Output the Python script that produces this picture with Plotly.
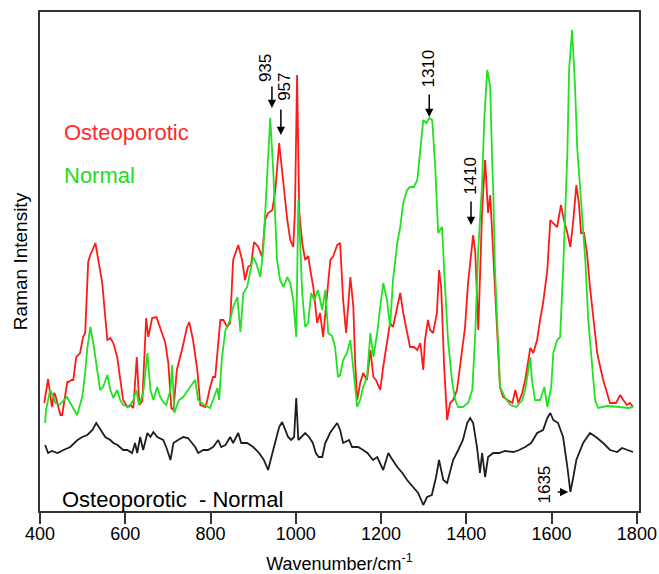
import plotly.graph_objects as go

# ---- data (wavenumber in cm-1, intensity in arbitrary units) ----
osteo_x = [410, 417, 419, 428, 433, 436, 448, 452, 459, 464, 466, 474, 478, 485, 490, 494, 501, 506, 513, 518, 530,
           537, 546, 553, 558, 565, 572, 581, 588, 595, 605, 612, 619, 627, 633, 640, 649, 654, 663, 673, 682, 694,
           701, 708, 713, 721, 734, 745, 750, 759, 769, 776, 788, 792, 799, 806, 811, 823, 830, 839, 846, 853, 865,
           874, 881, 888, 895, 902, 912, 921, 928, 935, 945, 952, 961, 970, 980, 987, 994, 998, 1003, 1008, 1015,
           1022, 1029, 1034, 1041, 1050, 1057, 1064, 1074, 1081, 1088, 1097, 1104, 1111, 1118, 1123, 1128, 1135,
           1139, 1144, 1151, 1158, 1167, 1175, 1182, 1188, 1198, 1205, 1214, 1221, 1228, 1238, 1245, 1252, 1261,
           1268, 1277, 1285, 1292, 1299, 1303, 1310, 1315, 1322, 1331, 1336, 1341, 1348, 1355, 1362, 1369, 1378,
           1385, 1397, 1404, 1416, 1421, 1428, 1437, 1444, 1451, 1456, 1463, 1472, 1479, 1486, 1496, 1508, 1515,
           1522, 1531, 1538, 1543, 1550, 1557, 1566, 1573, 1580, 1590, 1597, 1603, 1613, 1622, 1629, 1637, 1644,
           1651, 1658, 1664, 1669, 1676, 1683, 1690, 1698, 1707, 1714, 1721, 1730, 1737, 1751, 1761, 1768, 1777,
           1784, 1791]
osteo_y = [108, 131, 132, 104, 118, 116, 96, 96, 114, 129, 129, 131, 131, 154, 156, 158, 174, 178, 249, 256, 268,
           251, 228, 194, 171, 173, 168, 154, 134, 111, 104, 106, 103, 154, 106, 110, 193, 174, 193, 194, 183, 168,
           148, 103, 101, 141, 163, 184, 189, 171, 141, 106, 104, 110, 124, 134, 134, 191, 191, 184, 188, 251, 266,
           251, 231, 244, 246, 269, 264, 254, 291, 298, 301, 321, 368, 331, 291, 271, 264, 300, 436, 300, 268,
           251, 255, 241, 224, 188, 198, 174, 218, 251, 255, 266, 268, 211, 178, 205, 234, 204,
           151, 111, 128, 138, 131, 161, 134, 131, 121, 144, 171, 188, 184, 204, 218, 198, 178,
           164, 164, 161, 168, 141, 171, 191, 181, 178, 198, 241, 224, 144, 91, 108, 111, 121,
           144, 184, 228, 276, 258, 181, 300, 351, 298, 316, 258, 174, 124, 114, 111, 108, 121,
           108, 118, 131, 144, 163, 158, 171, 191, 208, 241, 291, 288, 284, 306, 291, 278, 264,
           291, 326, 308, 278, 278, 258, 224, 191, 158, 144, 131, 118, 108, 108, 116, 111, 106,
           108, 104]

normal_x = [412, 414, 424, 431, 436, 445, 463, 471, 487, 499, 506, 511, 518, 525, 534, 541, 548, 558, 565, 572,
            581, 588, 595, 609, 619, 626, 632, 642, 652, 659, 666, 675, 682, 689, 696, 706, 710, 715, 726, 736,
            752, 764, 771, 785, 799, 806, 816, 820, 827, 835, 846, 853, 863, 870, 877, 886, 893, 900, 907, 917,
            924, 933, 940, 947, 952, 956, 963, 971, 980, 987, 994, 1001, 1006, 1015, 1022, 1029, 1036, 1043,
            1052, 1062, 1069, 1076, 1085, 1092, 1099, 1104, 1111, 1120, 1128, 1135, 1144, 1151, 1158, 1167,
            1175, 1182, 1191, 1198, 1205, 1214, 1221, 1228, 1238, 1245, 1252, 1261, 1268, 1277, 1285, 1292,
            1299, 1306, 1313, 1320, 1327, 1334, 1343, 1350, 1357, 1367, 1374, 1381, 1392, 1404, 1414, 1421,
            1428, 1437, 1442, 1449, 1456, 1461, 1463, 1467, 1472, 1479, 1490, 1503, 1517, 1531, 1538, 1545,
            1550, 1554, 1561, 1573, 1583, 1590, 1599, 1604, 1613, 1620, 1627, 1637, 1641, 1648, 1655, 1660,
            1672, 1679, 1686, 1695, 1702, 1709, 1730, 1760, 1780, 1791]
normal_y = [88, 101, 121, 115, 108, 106, 114, 108, 96, 114, 138, 163, 184, 168, 141, 121, 124, 136, 121, 113,
            121, 111, 106, 104, 111, 121, 106, 118, 158, 121, 111, 124, 114, 109, 106, 121, 146, 98, 111, 114,
            124, 131, 111, 106, 103, 111, 123, 111, 154, 181, 191, 204, 214, 179, 218, 224, 238, 254, 248, 234,
            264, 334, 393, 341, 291, 251, 231, 224, 234, 228, 211, 174, 311, 218, 184, 188, 218, 211,
            221, 201, 221, 178, 175, 164, 134, 136, 151, 158, 171, 144, 104, 111, 124, 134,
            178, 154, 178, 204, 228, 211, 184, 231, 268, 284, 308, 321, 324, 324, 331, 361,
            391, 388, 393, 391, 344, 278, 284, 224, 171, 128, 111, 104, 104, 108, 121, 178,
            261, 328, 391, 441, 424, 344, 324, 244, 191, 124, 114, 106, 104, 111, 121, 138,
            154, 131, 111, 111, 124, 104, 124, 158, 171, 174, 241, 358, 441, 481, 424, 364,
            291, 251, 191, 141, 111, 103, 105, 104, 103, 104]

diff_x = [412, 419, 428, 441, 455, 471, 488, 499, 511, 523, 532, 539, 553, 565, 572, 582, 595, 605, 616, 623, 628,
          635, 642, 652, 659, 666, 675, 689, 696, 706, 713, 724, 736, 747, 755, 764, 771, 783, 794, 806, 818, 825,
          835, 846, 853, 865, 872, 886, 900, 914, 925, 935, 947, 961, 968, 975, 982, 989, 996, 1001, 1006, 1013,
          1022, 1031, 1040, 1047, 1054, 1062, 1069, 1076, 1080, 1097, 1104, 1111, 1125, 1132, 1146, 1158, 1168,
          1181, 1191, 1205, 1217, 1224, 1238, 1250, 1261, 1275, 1287, 1299, 1308, 1319, 1329, 1336, 1346, 1355,
          1362, 1369, 1381, 1392, 1402, 1409, 1416, 1425, 1432, 1437, 1444, 1451, 1463, 1477, 1491, 1510, 1524,
          1538, 1552, 1566, 1580, 1590, 1597, 1604, 1615, 1627, 1637, 1644, 1651, 1658, 1674, 1690, 1704, 1721,
          1737, 1754, 1765, 1777, 1791]
diff_y = [66, 58, 60, 58, 61, 64, 71, 74, 76, 81, 88, 83, 74, 71, 68, 66, 61, 61, 58, 68, 58,
          74, 61, 78, 74, 79, 74, 71, 64, 51, 68, 71, 74, 73, 69, 64, 58, 61, 61, 64, 71, 64,
          66, 74, 68, 78, 68, 68, 64, 58, 51, 41, 61, 84, 89, 81, 74, 71, 74, 113, 71, 74,
          78, 74, 68, 58, 54, 54, 68, 74, 78, 88, 81, 68, 71, 64, 64, 61, 58,
          51, 54, 41, 58, 53, 44, 38, 31, 24, 18, 6, 14, 16, 34, 51, 31, 28,
          41, 51, 61, 71, 88, 93, 88, 64, 38, 58, 34, 54, 58, 58, 60, 59, 61,
          64, 68, 78, 81, 93, 98, 91, 88, 74, 44, 19, 34, 51, 68, 78, 74, 68,
          61, 59, 63, 61, 59]

x_ticks = [400, 600, 800, 1000, 1200, 1400, 1600, 1800]

# peak labels: (text, text_x, text_y, arrow_tip_x, arrow_tip_y, ax, ay)
peak_labels = [
    ("935", 928, 443, 944, 403, 0, -23),
    ("957", 972, 424, 965, 376, 0, -27),
    ("1310", 1309, 442, 1313, 394, 0, -24),
    ("1410", 1408, 335, 1411, 286, 0, -25),
    ("1635", 1581, 26, 1639, 19, -12, 0),
]

FONT = "Liberation Sans, Arial, Helvetica, sans-serif"

fig = go.Figure()
fig.add_trace(go.Scatter(x=diff_x, y=diff_y, mode="lines", line=dict(color="#1e1e1e", width=1.8),
                         name="Osteoporotic - Normal", showlegend=False))
fig.add_trace(go.Scatter(x=osteo_x, y=osteo_y, mode="lines", line=dict(color="#ff1a1a", width=1.8),
                         name="Osteoporotic", showlegend=False))
fig.add_trace(go.Scatter(x=normal_x, y=normal_y, mode="lines", line=dict(color="#22e022", width=1.8),
                         name="Normal", showlegend=False))

annotations = []
for txt, tx, ty, px, py, ax, ay in peak_labels:
    annotations.append(dict(x=tx, y=ty, xref="x", yref="y", text=txt, showarrow=False, textangle=-90,
                            font=dict(family=FONT, size=17, color="black")))
    annotations.append(dict(x=px, y=py, xref="x", yref="y", text="", showarrow=True, ax=ax, ay=ay,
                            arrowhead=2, arrowsize=1.1, arrowwidth=1.5, arrowcolor="black"))

annotations += [
    dict(x=0.037, y=0.759, xref="paper", yref="paper", text="Osteoporotic", showarrow=False, xanchor="left",
         yanchor="middle", font=dict(family=FONT, size=22, color="#ff2a2a")),
    dict(x=0.037, y=0.672, xref="paper", yref="paper", text="Normal", showarrow=False, xanchor="left",
         yanchor="middle", font=dict(family=FONT, size=22, color="#22dd22")),
    dict(x=0.033, y=0.024, xref="paper", yref="paper", text="Osteoporotic\u00a0\u00a0- Normal", showarrow=False,
         xanchor="left", yanchor="middle", font=dict(family=FONT, size=22, color="black")),
]

fig.update_layout(
    width=659, height=574,
    margin=dict(l=40, r=20, t=12, b=63),
    plot_bgcolor="white", paper_bgcolor="white",
    font=dict(family=FONT, color="black"),
    annotations=annotations,
    xaxis=dict(range=[400, 1805], tickvals=x_ticks, ticks="outside", ticklen=11, tickwidth=1.5,
               tickcolor="#333", showline=True, mirror=True, linecolor="#333", linewidth=1.8,
               showgrid=False, zeroline=False, tickfont=dict(size=18, family=FONT), ticklabelstandoff=-6,
               automargin=False,
               title=dict(text="Wavenumber/cm<sup>-1</sup>", font=dict(size=18, family=FONT), standoff=20)),
    yaxis=dict(range=[0, 499], showticklabels=False, ticks="", showline=True, mirror=True,
               linecolor="#333", linewidth=1.8, showgrid=False, zeroline=False, automargin=False,
               title=dict(text="Raman Intensity", font=dict(size=19, family=FONT), standoff=5)),
)

fig.write_html("out.html")
